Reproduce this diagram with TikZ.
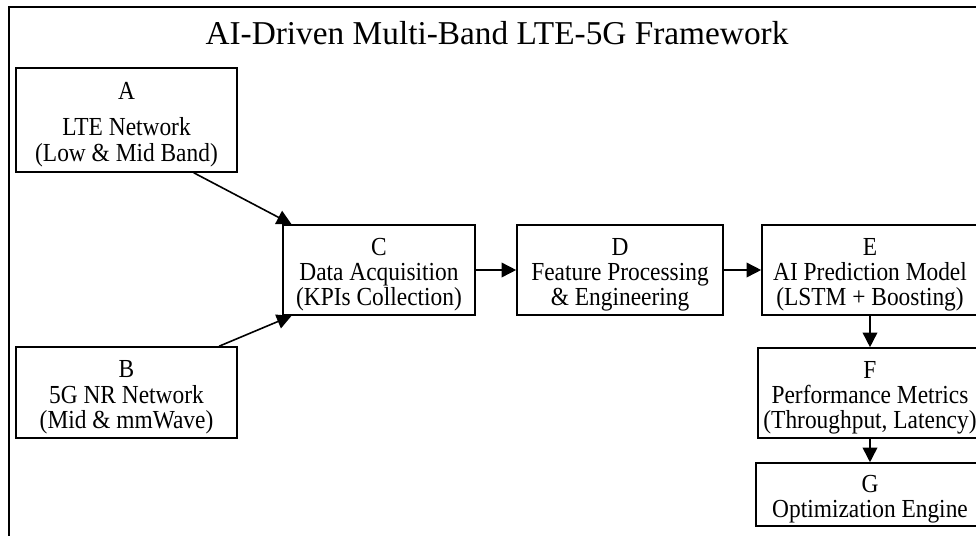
\documentclass[tikz,border=0pt]{standalone}
\usepackage{fontspec}
\setmainfont{Liberation Serif}
\newfontfamily\boxfont[FakeStretch=0.9]{Liberation Serif}
\usetikzlibrary{arrows.meta}
\newcommand{\topstrut}{\rule{0pt}{20pt}}

\begin{document}
\begin{tikzpicture}[x=0.75pt,y=-0.75pt,every text node part/.style={align=center},
		>={Triangle[length=11pt,width=11pt]}]
		\tikzstyle{block}=[rectangle,draw,line width=1.2pt,inner sep=2pt,
                  font=\boxfont\fontsize{19.5}{19}\selectfont]
		\tikzstyle{link}=[->,line width=1.2pt]

		\useasboundingbox (0,0) rectangle (976,536);
		\clip (0,0) rectangle (976,536);
		\draw[line width=1.2pt] (9,560) -- (9,7) -- (1000,7);

		\node (title) at (497,33) {\fontsize{25}{28}\selectfont AI-Driven Multi-Band LTE-5G Framework};

		% sources
		\node[block,minimum width=165.75pt,minimum height=78pt] (A) at (126.5,120)
			{\topstrut A\\[8pt]LTE Network\\(Low \& Mid Band)};
		\node[block,minimum width=165.75pt,minimum height=68.25pt] (B) at (126.5,392.5)
			{\topstrut B\\5G NR Network\\(Mid \& mmWave)};

		% pipeline
		\node[block,minimum width=144pt,minimum height=67.5pt] (C) at (379,270)
			{\topstrut C\\Data Acquisition\\(KPIs Collection)};
		\node[block,minimum width=154.5pt,minimum height=67.5pt] (D) at (620,270)
			{\topstrut D\\Feature Processing\\\& Engineering};
		\node[block,minimum width=162pt,minimum height=67.5pt] (E) at (870,270)
			{\topstrut E\\AI Prediction Model\\(LSTM + Boosting)};
		\node[block,minimum width=168pt,minimum height=67.5pt] (F) at (870,393)
			{\topstrut F\\Performance Metrics\\(Throughput, Latency)};
		\node[block,minimum width=171pt,minimum height=45.75pt] (G) at (870,494.5)
			{\topstrut G\\Optimization Engine};

        % edges
		\draw[link] ([xshift=-33pt]A.south east) -- ([xshift=7pt]C.north west);
		\draw[link] ([xshift=-14pt]B.north east) -- ([xshift=7pt]C.south west);

		\foreach \from/\to in {C/D, D/E, E/F, F/G}
			\draw[link] (\from) -- (\to);

	\end{tikzpicture}
\end{document}
